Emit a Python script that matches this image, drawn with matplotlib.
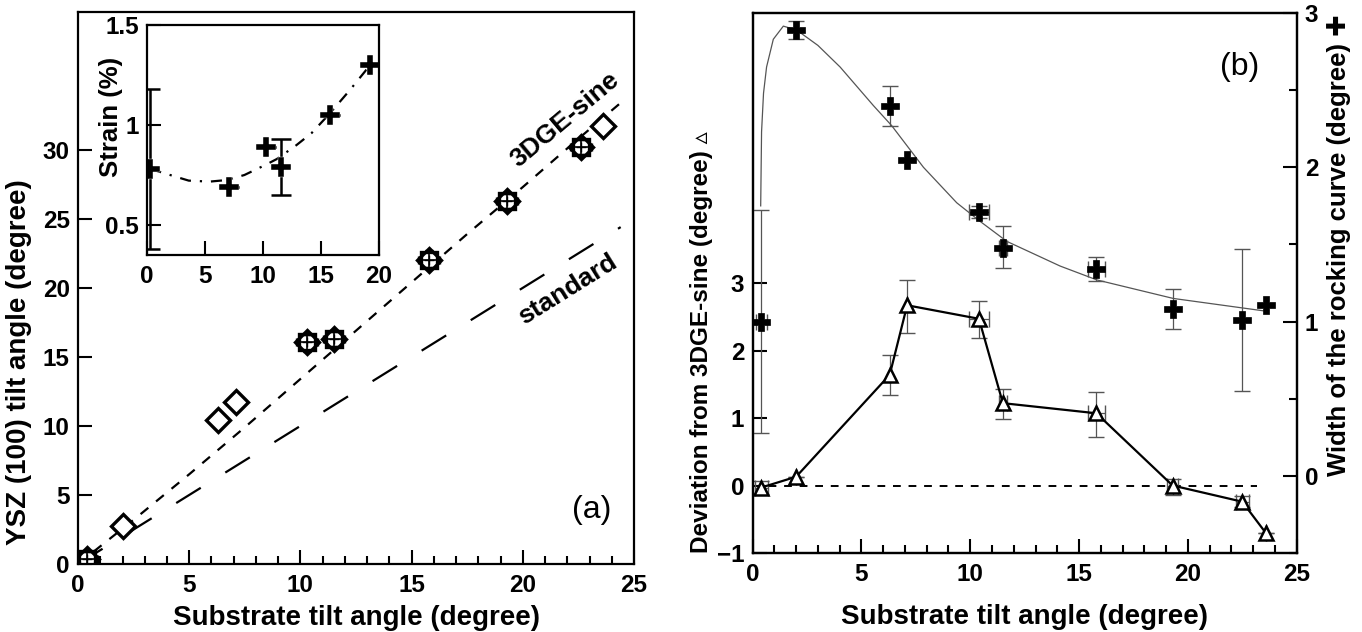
import matplotlib
matplotlib.use('Agg')
import matplotlib.pyplot as plt

plt.rcParams['font.family'] = ['Liberation Sans', 'DejaVu Sans']
plt.rcParams['font.weight'] = 'bold'
plt.rcParams['axes.labelweight'] = 'bold'
plt.rcParams['axes.linewidth'] = 1.6

# ---- panel (a) data ----
tilt_a = [0.4, 2.0, 6.3, 7.1, 10.3, 11.5, 15.8, 19.3, 22.6, 23.6]
ysz_tilt = [0.35, 2.75, 10.4, 11.75, 16.05, 16.3, 22.05, 26.3, 30.2, 31.7]
heavy = [0, 4, 5, 6, 7, 8]   # points drawn with overlapping symbols

sine_x = [0, 2.5, 5, 7.5, 10, 12.5, 15, 17.5, 20, 22.5, 24.4]
sine_y = [0, 3.2, 6.5, 9.9, 13.4, 16.9, 20.4, 23.9, 27.3, 30.8, 33.4]
std_x = [0, 24.4]
std_y = [0, 24.4]

# inset: strain
strain_x = [0.3, 7.1, 10.3, 11.6, 15.8, 19.2]
strain = [0.78, 0.69, 0.89, 0.79, 1.05, 1.30]
strain_err = [0.40, 0, 0, 0.14, 0, 0]
strain_fit_x = [0.3, 2.0, 3.6, 5.4, 6.9, 8.4, 10.2, 11.2, 12.9, 14.2, 15.8, 17.5, 18.9, 19.4]
strain_fit_y = [0.78, 0.75, 0.722, 0.717, 0.725, 0.75, 0.80, 0.83, 0.90, 0.96, 1.06, 1.175, 1.275, 1.31]

# ---- panel (b) data ----
tilt_b = [0.4, 2.0, 6.3, 7.1, 10.4, 11.5, 15.8, 19.3, 22.5, 23.6]
deviation = [-0.03, 0.13, 1.64, 2.67, 2.47, 1.22, 1.07, 0.0, -0.24, -0.71]
dev_lo = [0.10, 0, 0.30, 0.41, 0.29, 0.23, 0.35, 0.14, 0.08, 0]
dev_hi = [0.10, 0, 0.30, 0.38, 0.27, 0.21, 0.32, 0.10, 0.08, 0]
dev_xerr = [0.3, 0, 0, 0, 0.44, 0.2, 0.4, 0.25, 0.3, 0]

width_rc = [1.0, 2.89, 2.40, 2.05, 1.71, 1.48, 1.34, 1.08, 1.01, 1.11]
w_lo = [0.72, 0.06, 0.13, 0, 0.04, 0.13, 0.08, 0.13, 0.46, 0]
w_hi = [0.72, 0.06, 0.13, 0, 0.04, 0.14, 0.08, 0.13, 0.46, 0]
w_xerr = [0.25, 0, 0, 0, 0.44, 0.2, 0.4, 0, 0, 0]

fit_x = [0.37, 0.41, 0.5, 0.64, 0.95, 1.41, 2.02, 3.0, 4.02, 5.55, 6.39, 7.85,
         9.38, 10.45, 11.68, 14.13, 15.82, 19.33, 23.46]
fit_y = [1.75, 2.23, 2.48, 2.65, 2.83, 2.915, 2.89, 2.79, 2.65, 2.40, 2.27, 2.0,
         1.77, 1.65, 1.52, 1.36, 1.27, 1.15, 1.07]

fig = plt.figure(figsize=(13.62, 6.32), dpi=100)

TICK = 17.5
LAB = 20

def style(ax, size=TICK):
    ax.tick_params(which='both', direction='in', width=1.5, labelsize=size)
    ax.tick_params(which='major', length=10)
    ax.tick_params(which='minor', length=6)

# ================= (a) =================
ax = fig.add_axes([0.0573, 0.1076, 0.4082, 0.8739])
ax.plot(sine_x, sine_y, color='black', lw=1.6, dashes=(4.5, 4.5))
ax.plot(std_x, std_y, color='black', lw=1.6, dashes=(13, 13))
ax.plot(tilt_a, ysz_tilt, 'D', ms=12, mfc='white', mec='black', mew=2.4)
hx = [tilt_a[i] for i in heavy]
hy = [ysz_tilt[i] for i in heavy]
ax.errorbar(hx, hy, xerr=0.45, yerr=0.6, fmt='s', ms=11, mfc='none', mec='black',
            mew=2.4, ecolor='black', elinewidth=1.2, capsize=3)
ax.plot(hx, hy, '+', ms=7, color='black', mew=1.0)
ax.set_xlim(0, 25)
ax.set_ylim(0, 40)
ax.set_xticks([0, 5, 10, 15, 20, 25])
ax.set_xticks(range(0, 26), minor=True)
ax.set_yticks([0, 5, 10, 15, 20, 25, 30])
style(ax)
ax.tick_params(axis='x', pad=7)
ax.tick_params(axis='y', pad=6)
ax.set_xlabel('Substrate tilt angle (degree)', fontsize=LAB)
ax.set_ylabel('YSZ (100) tilt angle (degree)', fontsize=LAB)
ax.xaxis.set_label_coords(0.5, -0.075)
ax.yaxis.set_label_coords(-0.083, 0.366)
ax.text(21.9, 32.2, '3DGE-sine', rotation=40, fontsize=19, ha='center', va='center')
ax.text(22.0, 19.9, 'standard', rotation=32, fontsize=19, ha='center', va='center')
ax.text(23.1, 3.9, '(a)', fontsize=23, fontweight='normal', ha='center', va='center')

# inset
ins = fig.add_axes([0.1079, 0.5965, 0.1703, 0.3639])
ins.plot(strain_fit_x, strain_fit_y, color='black', lw=1.6, dashes=(5, 4, 1, 4))
ins.errorbar(strain_x, strain, yerr=strain_err, fmt='none', ecolor='black',
             elinewidth=1.8, capsize=7, capthick=1.8)
ins.plot(strain_x, strain, 'P', ms=15, color='black', mec='white', mew=0.3)
ins.set_xlim(0, 20)
ins.set_ylim(0.35, 1.5)
ins.set_xticks([0, 5, 10, 15, 20])
ins.set_yticks([0.5, 1.0, 1.5])
ins.set_yticklabels(['0.5', '1', '1.5'])
style(ins)
ins.tick_params(axis='x', pad=7)
ins.tick_params(axis='y', pad=6)
ins.set_ylabel('Strain (%)', fontsize=18.5)
ins.yaxis.set_label_coords(-0.103, 0.6)

# ================= (b) =================
axb = fig.add_axes([0.5526, 0.125, 0.3994, 0.8544])
axb.plot([0, 23.2], [0, 0], color='black', lw=1.4, dashes=(4, 4))
axb.errorbar(tilt_b, deviation, yerr=[dev_lo, dev_hi], xerr=dev_xerr, fmt='none',
             ecolor='#555555', elinewidth=0.9, capsize=6)
axb.plot(tilt_b, deviation, '-^', color='black', lw=1.6, ms=10, mfc='white',
         mec='black', mew=1.8)
axb.set_xlim(0, 25)
axb.set_ylim(-1, 7)
axb.set_xticks([0, 5, 10, 15, 20, 25])
axb.set_xticks(range(0, 26), minor=True)
axb.set_yticks([-1, 0, 1, 2, 3])
style(axb)
axb.tick_params(axis='x', pad=7)
axb.tick_params(axis='y', pad=6)
axb.set_xlabel('Substrate tilt angle (degree)', fontsize=LAB)
axb.set_ylabel('Deviation from 3DGE-sine (degree) \u25b5', fontsize=17.5)
axb.xaxis.set_label_coords(0.5, -0.095)
axb.yaxis.set_label_coords(-0.073, 0.39)
axb.text(22.4, 6.2, '(b)', fontsize=23, fontweight='normal', ha='center', va='center')

axr = axb.twinx()
axr.plot(fit_x, fit_y, color='#555555', lw=0.9)
axr.errorbar(tilt_b, width_rc, yerr=[w_lo, w_hi], xerr=w_xerr, fmt='none',
             ecolor='#555555', elinewidth=0.9, capsize=6)
axr.plot(tilt_b, width_rc, 'P', ms=13, color='black', mec='black', mew=0.5)
axr.set_ylim(-0.5, 3)
axr.set_yticks([0, 1, 2, 3])
axr.set_yticks([-0.5, 0.5, 1.5, 2.5], minor=True)
style(axr)
axr.tick_params(axis='y', pad=6)
axr.set_ylabel('Width of the rocking curve (degree) \u271a', fontsize=18.5, rotation=90)
axr.yaxis.set_label_coords(1.056, 0.57)

fig.savefig('out.png', dpi=100)
